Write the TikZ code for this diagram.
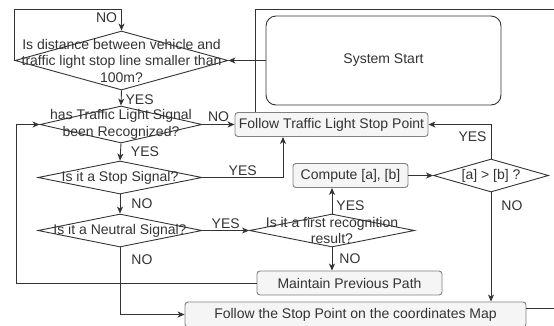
\documentclass[tikz,border=0pt]{standalone}
\usepackage{fontspec}
\setmainfont{Liberation Sans}
\usepackage{xcolor}
\usetikzlibrary{arrows.meta, positioning, shapes.geometric}
\definecolor{inkgray}{HTML}{333333}
\definecolor{fillgray}{HTML}{F5F5F5}
\definecolor{edgegray}{HTML}{808080}

\begin{document}
\begin{tikzpicture}[
        x=1pt, y=-1pt,
        font=\fontsize{14}{16.5}\selectfont,
        line width=0.9pt, draw=inkgray, text=inkgray,
        decision/.style={diamond, draw=inkgray, inner sep=0pt},
        box/.style={rectangle, rounded corners=3pt, draw=edgegray, fill=fillgray, inner sep=0pt, minimum height=24pt},
        startbox/.style={rectangle, rounded corners=10pt, draw=inkgray, minimum width=235pt, minimum height=89pt},
        lbl/.style={inner sep=1pt},
        arrow/.style={-{Stealth[length=7pt, width=6pt, inset=2pt]}, inkgray}
    ]
        \useasboundingbox (0,0) rectangle (554,325);

        \node[startbox] (start) at (383.5,60.5) {System Start};
        \node[decision, minimum width=213pt, minimum height=59pt,
            label={[align=center]center:Is distance between vehicle and\\traffic light stop line smaller than\\100m?}] (distance) at (121.5,60.5) {};
        \node[decision, minimum width=162pt, minimum height=37pt,
            label={[align=center]center:has Traffic Light Signal\\been Recognized?}] (recognized) at (121,124.5) {};
        \node[decision, minimum width=164pt, minimum height=33pt,
            label=center:Is it a Stop Signal?] (stopsig) at (120,177.5) {};
        \node[decision, minimum width=164pt, minimum height=33pt,
            label=center:Is it a Neutral Signal?] (neutral) at (120,230.5) {};
        \node[decision, minimum width=165pt, minimum height=33pt,
            label={[align=center]center:Is it a first recognition\\result?}] (first) at (332,230.5) {};
        \node[decision, minimum width=115pt, minimum height=33pt,
            label=center:{[a] > [b] ?}] (compare) at (491,175.5) {};

        \node[box, minimum width=193pt] (followtl) at (331.5,124.5) {Follow Traffic Light Stop Point};
        \node[box, minimum width=115pt] (compute) at (350.5,175.5) {Compute [a], [b]};
        \node[box, minimum width=185pt] (maintain) at (349.5,283) {Maintain Previous Path};
        \node[box, minimum width=341pt, minimum height=25pt] (followmap) at (355.5,314.5) {Follow the Stop Point on the coordinates Map};

        \coordinate (exittop) at (554,9);
        \coordinate (exitbottom) at (554,308);

        \draw[arrow] (distance.west) |- ([yshift=21pt]distance.north) -- node[lbl, pos=0.4, left=3pt] {NO} (distance.north);
        \draw[arrow] (start.west) -- (distance.east);
        \draw[arrow] (distance.south) -- node[lbl, pos=0.6, right=3pt] {YES} (recognized.north);
        \draw[arrow] (recognized.east) -- node[lbl, above=1pt] {NO} (recognized.east -| followtl.west);
        \draw[arrow] (recognized.south) -- node[lbl, right=9pt] {YES} (stopsig.north);
        \draw[arrow] (stopsig.east) -| node[lbl, pos=0.25, above=0pt] {YES} ([xshift=-48.5pt]followtl.south);
        \draw[arrow] (stopsig.south) -- node[lbl, right=10pt] {NO} (neutral.north);
        \draw[arrow] (neutral.east) -- node[lbl, above=0pt] {YES} (first.west);
        \draw[arrow] (neutral.south) |- node[lbl, pos=0.09, right=10pt] {NO} (followmap.west);
        \draw[arrow] (first.north) -- node[lbl, pos=0.3, right=3pt] {YES} (first.north |- compute.south);
        \draw[arrow] (first.south) -- node[lbl, right=6pt] {NO} (first.south |- maintain.north);
        \draw[arrow] (compute.east) -- (compute.east -| compare.west);
        \draw[arrow] (compare.north) |- node[lbl, pos=0.32, left=3pt] {YES} (followtl.east);
        \draw[arrow] (compare.south) -- node[lbl, pos=0.12, right=9pt] {NO} (compare.south |- followmap.north);
        \draw[arrow] (maintain.west) -| ([xshift=-23pt]recognized.west) -- (recognized.west);
        \draw ([xshift=-76.5pt]followtl.north) |- (exittop);
        \draw (followmap.east |- exitbottom) -- (exitbottom);
    \end{tikzpicture}
\end{document}
